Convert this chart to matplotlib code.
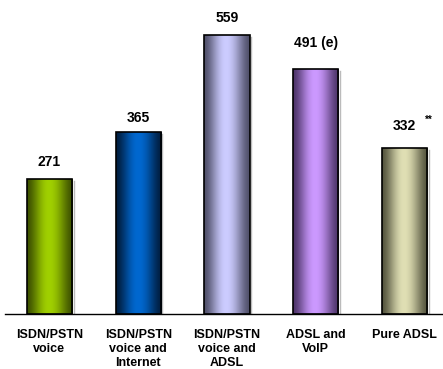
import numpy as np
import matplotlib
matplotlib.use("Agg")
import matplotlib.pyplot as plt
from matplotlib.colors import LinearSegmentedColormap
from matplotlib.patches import Rectangle

plt.rcParams['font.family'] = ['Liberation Sans', 'DejaVu Sans']

categories = ["ISDN/PSTN\nvoice", "ISDN/PSTN\nvoice and\nInternet",
              "ISDN/PSTN\nvoice and\nADSL", "ADSL and\nVoIP", "Pure ADSL"]
values = [271, 365, 559, 491, 332]
value_labels = ["271", "365", "559", "491 (e)", "332"]
label_offsets = [16, 14, 17, 25, 22]  # pixels above bar top
# (edge colour, centre colour) of each cylinder-shaded bar
bar_shades = [("#3e5200", "#a0d000"),
              ("#001e40", "#0068d0"),
              ("#50506a", "#ccccff"),
              ("#4e356a", "#cc99ff"),
              ("#55553f", "#e0dfb4")]

W, H = 443, 369
fig = plt.figure(figsize=(W / 100, H / 100), dpi=100)
ax = fig.add_axes([5 / W, (H - 314) / H, (449 - 5) / W, 300 / H])
ax.set_xlim(-0.5, 4.5)
ax.set_ylim(0, 600)

bar_w = 0.507
prof = np.linspace(0, 1, 256)
# bright band slightly left of centre, dark towards both edges
t = np.where(prof < 0.48, prof / 0.48, (1 - prof) / 0.52)
shade = np.sin(np.pi / 2 * t) ** 1.6

for i, (v, (dark, light)) in enumerate(zip(values, bar_shades)):
    cmap = LinearSegmentedColormap.from_list(f"c{i}", [dark, light])
    x0 = i - bar_w / 2
    im = ax.imshow(shade[None, :], cmap=cmap, vmin=0, vmax=1, aspect='auto',
                   extent=(x0, x0 + bar_w, 0, v), zorder=2, interpolation='bilinear')
    rect = Rectangle((x0, 0), bar_w, v, facecolor='none', edgecolor='black',
                     linewidth=1.2, zorder=3)
    ax.add_patch(rect)
    im.set_clip_path(rect)
    # faint shadow at the right side
    ax.plot([x0 + bar_w + 0.02] * 2, [0, v - 4], color='#bbbbbb', lw=1.0, zorder=1)
    ax.annotate(value_labels[i], (i, v), xytext=(0, label_offsets[i]),
                textcoords='offset pixels', ha='center', va='center',
                fontsize=10, fontweight='bold')

ax.annotate("**", (4, values[4]), xytext=(24, label_offsets[4] + 6),
            textcoords='offset pixels', ha='center', va='center',
            fontsize=7, fontweight='bold')

for s in ['top', 'right', 'left']:
    ax.spines[s].set_visible(False)
ax.spines['bottom'].set_linewidth(1.0)
ax.set_yticks([])
ax.set_xticks(range(len(categories)))
ax.set_xticklabels(categories, fontsize=9, fontweight='bold', linespacing=1.25,
                   va='top')
ax.tick_params(axis='x', length=0, pad=10.5)

fig.savefig("out.png", dpi=100)
